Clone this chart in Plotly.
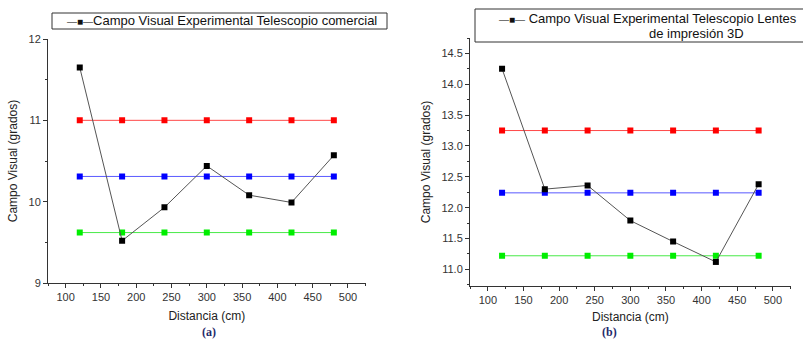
import plotly.graph_objects as go

# ---- data ----
distancia = [120, 180, 240, 300, 360, 420, 480]

exp_a = [11.65, 9.52, 9.93, 10.44, 10.08, 9.99, 10.57]
red_a = [11.0] * 7
blue_a = [10.31] * 7
green_a = [9.62] * 7

exp_b = [14.25, 12.30, 12.36, 11.79, 11.45, 11.12, 12.38]
red_b = [13.25] * 7
blue_b = [12.24] * 7
green_b = [11.22] * 7

legend_a = "Campo Visual Experimental Telescopio comercial"
legend_b1 = "Campo Visual Experimental Telescopio Lentes"
legend_b2 = "de impresión 3D"

FONT = "Liberation Sans, Arial, sans-serif"
W, H = 803, 339


def px(x):
    return x / W


def py(y):
    return 1 - y / H


fig = go.Figure()


def add_panel(xa, ya, exp, red, blue, green, name):
    for vals, lc, mc in [(red, "rgba(255,40,40,0.85)", "#ff0000"),
                         (blue, "rgba(60,60,255,0.85)", "#0000ff"),
                         (green, "rgba(40,230,40,0.85)", "#00ee00")]:
        fig.add_trace(go.Scatter(
            x=distancia, y=vals, mode="lines+markers", xaxis=xa, yaxis=ya,
            line=dict(color=lc, width=1),
            marker=dict(symbol="square", size=6, color=mc),
            showlegend=False, hoverinfo="skip"))
    fig.add_trace(go.Scatter(
        x=distancia, y=exp, mode="lines+markers", xaxis=xa, yaxis=ya,
        name=name, showlegend=False,
        line=dict(color="#555555", width=1),
        marker=dict(symbol="square", size=6, color="#000000")))


add_panel("x", "y", exp_a, red_a, blue_a, green_a, legend_a)
add_panel("x2", "y2", exp_b, red_b, blue_b, green_b, legend_b1 + " " + legend_b2)

axis_common = dict(
    showline=True, linecolor="#333333", linewidth=1, mirror=False,
    showgrid=False, zeroline=False, ticks="outside", ticklen=4,
    tickcolor="#333333", tickfont=dict(family=FONT, size=11, color="#333333"),
    automargin=False,
)
xminor = dict(ticks="outside", dtick=25, tick0=75, ticklen=2, tickcolor="#333333")

SYM = ("<span style='font-size:10px'><span style='color:#555555'>—</span>"
       "■<span style='color:#555555'>—</span></span>")

legend_font = dict(family=FONT, size=13, color="#111111")

fig.update_layout(
    width=W, height=H, autosize=False,
    margin=dict(l=0, r=0, t=0, b=0, autoexpand=False),
    paper_bgcolor="white", plot_bgcolor="white",
    font=dict(family=FONT, color="#222222"),
    showlegend=False,
    xaxis=dict(domain=[px(48), px(365.6)], range=[75, 525], dtick=50, tick0=100,
               minor=xminor, anchor="y",
               title=dict(text="Distancia (cm)", font=dict(size=12), standoff=9),
               **axis_common),
    yaxis=dict(domain=[py(283), py(39)], range=[9, 12], dtick=1,
               minor=dict(ticks="outside", dtick=0.5, ticklen=2, tickcolor="#333333"),
               anchor="x",
               title=dict(text="Campo Visual (grados)", font=dict(size=12), standoff=8),
               **axis_common),
    xaxis2=dict(domain=[px(470), px(790.7)], range=[75, 525], dtick=50, tick0=100,
                minor=xminor, anchor="y2",
                title=dict(text="Distancia (cm)", font=dict(size=12), standoff=7),
                **axis_common),
    yaxis2=dict(domain=[py(286), py(38)], range=[10.73, 14.75], dtick=0.5,
                tickformat=".1f",
                minor=dict(ticks="outside", dtick=0.25, ticklen=2, tickcolor="#333333"),
                anchor="x2",
                title=dict(text="Campo Visual (grados)", font=dict(size=12), standoff=8),
                **axis_common),
    shapes=[
        dict(type="rect", xref="paper", yref="paper",
             x0=px(52), x1=px(387), y0=py(29), y1=py(13),
             line=dict(color="#333333", width=1), fillcolor="white", layer="above"),
        dict(type="rect", xref="paper", yref="paper",
             x0=px(475), x1=px(815), y0=py(42), y1=py(9),
             line=dict(color="#333333", width=1), fillcolor="white", layer="above"),
    ],
    annotations=[
        dict(text=SYM + legend_a, x=px(65), y=py(21), xref="paper", yref="paper",
             xanchor="left", yanchor="middle", showarrow=False, font=legend_font),
        dict(text=SYM + " " + legend_b1, x=px(497), y=py(18.5), xref="paper",
             yref="paper", xanchor="left", yanchor="middle", showarrow=False,
             font=legend_font),
        dict(text=legend_b2, x=px(647), y=py(34), xref="paper", yref="paper",
             xanchor="left", yanchor="middle", showarrow=False, font=legend_font),
        dict(text="<b>(a)</b>", x=px(200), y=py(332), xref="paper", yref="paper",
             yanchor="middle", showarrow=False,
             font=dict(family="Liberation Serif, Times New Roman, serif", size=12,
                       color="#1f2a6b")),
        dict(text="<b>(b)</b>", x=px(619), y=py(332), xref="paper", yref="paper",
             yanchor="middle", showarrow=False,
             font=dict(family="Liberation Serif, Times New Roman, serif", size=12,
                       color="#1f2a6b")),
    ],
)

fig.write_html("out.html",
               config={"displayModeBar": False},
               post_script="document.body.style.margin='0';"
                           "document.body.style.overflow='hidden';")
